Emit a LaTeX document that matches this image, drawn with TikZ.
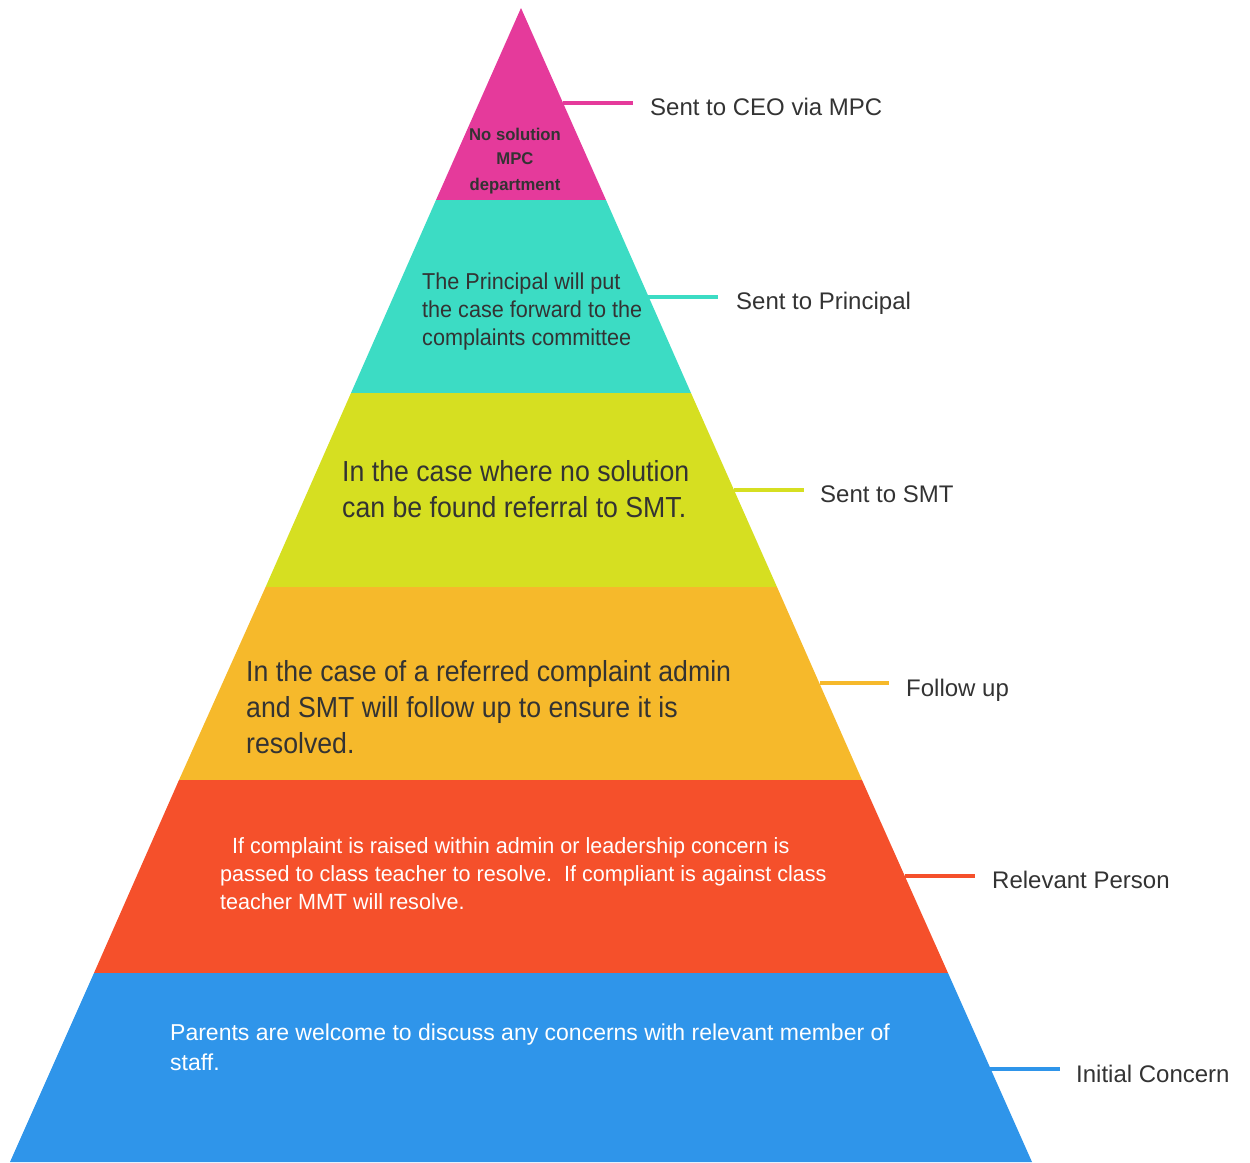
\documentclass[tikz,border=0pt]{standalone}
\usepackage{fontspec}
\setmainfont[FakeStretch=0.92]{Liberation Sans}
\newfontfamily\fwide[FakeStretch=1.0]{Liberation Sans}
\newfontfamily\fmid[FakeStretch=0.98]{Liberation Sans}
\newfontfamily\fteal[FakeStretch=0.94]{Liberation Sans}
\definecolor{cpink}{HTML}{E53A9B}
\definecolor{cteal}{HTML}{3CDCC4}
\definecolor{cyellow}{HTML}{D6DF21}
\definecolor{corange}{HTML}{F6B92B}
\definecolor{cred}{HTML}{F5502B}
\definecolor{cblue}{HTML}{2F95EA}
\definecolor{ctext}{HTML}{333333}
\tikzset{
  lbl/.style={anchor=base west, inner sep=0pt, text=ctext, font=\fwide\fontsize{24}{28}\selectfont},
  conn/.style={line width=3.5pt},
  txt/.style={anchor=base west, inner sep=0pt, text=ctext},
  toptxt/.style={anchor=base, inner sep=0pt, text=ctext, font=\fmid\bfseries\fontsize{17}{20}\selectfont},
  redtxt/.style={anchor=base west, inner sep=0pt, text=white, font=\fmid\fontsize{22}{28}\selectfont},
  bluetxt/.style={anchor=base west, inner sep=0pt, text=white, font=\fwide\fontsize{23}{28}\selectfont},
}
\begin{document}
\begin{tikzpicture}[x=1pt,y=-1pt]
\useasboundingbox (0,0) rectangle (1250,1162);
% layers
\fill[cpink]   (521,8) -- (606,200) -- (436,200) -- cycle;
\fill[cteal]   (436,200) -- (606,200) -- (691,393) -- (351,393) -- cycle;
\fill[cyellow] (351,393) -- (691,393) -- (777,587) -- (265.6,587) -- cycle;
\fill[corange] (265.6,587) -- (777,587) -- (862,780) -- (179,780) -- cycle;
\fill[cred]    (179,780) -- (862,780) -- (948,973) -- (94,973) -- cycle;
\fill[cblue]   (94,973) -- (948,973) -- (1032,1162) -- (10,1162) -- cycle;
% edge points and line ends
\coordinate (e1) at (563,103);  \coordinate (f1) at (633,103);
\coordinate (e2) at (648,297);  \coordinate (f2) at (718,297);
\coordinate (e3) at (734,490);  \coordinate (f3) at (804,490);
\coordinate (e4) at (820,683);  \coordinate (f4) at (889,683);
\coordinate (e5) at (905,876);  \coordinate (f5) at (975,876);
\coordinate (e6) at (990,1069); \coordinate (f6) at (1060,1069);
\draw[conn,cpink]   (e1) -- (f1);
\draw[conn,cteal]   (e2) -- (f2);
\draw[conn,cyellow] (e3) -- (f3);
\draw[conn,corange] (e4) -- (f4);
\draw[conn,cred]    (e5) -- (f5);
\draw[conn,cblue]   (e6) -- (f6);
% labels
\node[lbl] (l1) at (650,115)  {Sent to CEO via MPC};
\node[lbl] (l2) at (736,309)  {Sent to Principal};
\node[lbl] (l3) at (820,502)  {Sent to SMT};
\node[lbl] (l4) at (906,696)  {Follow up};
\node[lbl] (l5) at (992,888)  {Relevant Person};
\node[lbl] (l6) at (1076,1082) {Initial Concern};
% top block
\node[toptxt] (a1) at (515,140) {No solution};
\node[toptxt] (a2) at (515,164) {MPC};
\node[toptxt] (a3) at (515,190) {department};
% teal block
\node[txt,font=\fteal\fontsize{23}{28}\selectfont] (b1) at (422,289) {The Principal will put};
\node[txt,font=\fteal\fontsize{23}{28}\selectfont] (b2) at (422,317) {the case forward to the};
\node[txt,font=\fteal\fontsize{23}{28}\selectfont] (b3) at (422,345) {complaints committee};
% yellow block
\node[txt,font=\fontsize{29}{36}\selectfont] (c1) at (342,481) {In the case where no solution};
\node[txt,font=\fontsize{29}{36}\selectfont] (c2) at (342,517) {can be found referral to SMT.};
% orange block
\node[txt,font=\fontsize{29}{36}\selectfont] (d1) at (246,681) {In the case of a referred complaint admin};
\node[txt,font=\fontsize{29}{36}\selectfont] (d2) at (246,717) {and SMT will follow up to ensure it is};
\node[txt,font=\fontsize{29}{36}\selectfont] (d3) at (246,753) {resolved.};
% red block
\node[redtxt] (r1) at (232,853) {If complaint is raised within admin or leadership concern is};
\node[redtxt] (r2) at (220,881) {passed to class teacher to resolve.\ \ If compliant is against class};
\node[redtxt] (r3) at (220,909) {teacher MMT will resolve.};
% blue block
\node[bluetxt] (s1) at (170,1040) {Parents are welcome to discuss any concerns with relevant member of};
\node[bluetxt] (s2) at (170,1070) {staff.};
\end{tikzpicture}
\end{document}
